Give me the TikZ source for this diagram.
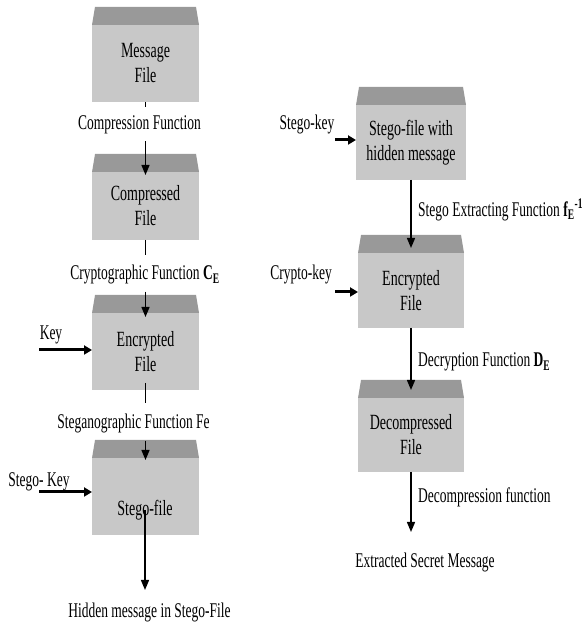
\documentclass[tikz,border=0pt]{standalone}
\usepackage{fontspec}
\setmainfont{Liberation Serif}
\usepackage{graphicx}
\usetikzlibrary{arrows.meta}

\definecolor{bodygray}{RGB}{200,200,200}
\definecolor{lidgray}{RGB}{153,153,153}
\newcommand{\tx}[1]{\scalebox{1}[1.55]{#1}}

\tikzset{
  filebox/.style={rectangle,fill=bodygray,inner sep=0pt,outer sep=0pt,align=center,
    font=\fontsize{14}{25}\selectfont},
  lbl/.style={inner sep=2pt,font=\fontsize{13.5}{16}\selectfont},
  flow/.style={line width=1.4pt,-{Triangle[length=10pt,width=8pt]}},
  keyflow/.style={line width=3pt,-{Triangle[length=8pt,width=9pt]}},
  tick/.style={line width=1.4pt}
}

\begin{document}
\begin{tikzpicture}[x=1pt,y=1pt]
            \useasboundingbox (0,0) rectangle (582,623);

            % hiding side
            \node[filebox,minimum width=107pt,minimum height=77pt] (msg) at (145.5,559.5) {\tx{Message}\\\tx{File}};
            \node[filebox,minimum width=107pt,minimum height=68pt] (cmp) at (145.5,417) {\tx{Compressed}\\\tx{File}};
            \node[filebox,minimum width=107pt,minimum height=77pt] (enc) at (145.5,271.5) {\tx{Encrypted}\\\tx{File}};
            \node[filebox,minimum width=107pt,minimum height=77pt] (stg) at (145.5,126.5) {};

            % extracting side
            \node[filebox,minimum width=110pt,minimum height=75pt] (sfh) at (411,480.5) {\tx{Stego-file with}\\\tx{hidden message}};
            \node[filebox,minimum width=106pt,minimum height=75pt] (enc2) at (411,332.5) {\tx{Encrypted}\\\tx{File}};
            \node[filebox,minimum width=106pt,minimum height=74pt] (dec) at (411,188) {\tx{Decompressed}\\\tx{File}};

            \foreach \b in {msg,cmp,enc,stg,sfh,enc2,dec}
              \fill[lidgray] (\b.north west) -- ([shift={(3,18)}]\b.north west)
                -- ([shift={(-3,18)}]\b.north east) -- (\b.north east) -- cycle;

            \node[lbl,font=\fontsize{14}{16}\selectfont] (stgtxt) at (145,113) {\tx{Stego-file}};

            \node[lbl] (complbl) at (139.5,498) {\tx{Compression Function}};
            \node[lbl] (cryplbl) at (145,348) {\tx{Cryptographic Function \textbf{C\textsubscript{E}}}};
            \node[lbl] (steglbl) at (133.5,199) {\tx{Steganographic Function Fe}};
            \node[lbl] (hidlbl) at (149.5,11) {\tx{Hidden message in Stego-File}};
            \node[lbl] (keylbl) at (51,288) {\tx{Key}};
            \node[lbl] (skeylbl) at (39,141) {\tx{Stego- Key}};

            \node[lbl] (rskeylbl) at (307,498) {\tx{Stego-key}};
            \node[lbl] (ckeylbl) at (301,348) {\tx{Crypto-key}};
            \node[lbl,anchor=west] (extrlbl) at (416,413) {\tx{Stego Extracting Function \textbf{f\textsubscript{E}\textsuperscript{-1}}}};
            \node[lbl,anchor=west] (decrlbl) at (416,261) {\tx{Decryption Function \textbf{D\textsubscript{E}}}};
            \node[lbl,anchor=west] (dcmplbl) at (416,126) {\tx{Decompression function}};
            \node[lbl] (outlbl) at (425,60) {\tx{Extracted Secret Message}};

            \coordinate (keyin) at (39,273);
            \coordinate (skeyin) at (39,131);
            \coordinate (rskeyin) at (335,483);
            \coordinate (ckeyin) at (335,331);
            \coordinate (hidout) at (145,33);
            \coordinate (outr) at (411,91);

            % connectors
            \draw[tick] (msg.south) -- ++(0,-5);
            \draw[flow,shorten <=5pt] (cmp.north |- complbl.south) -- ([yshift=-3pt]cmp.north);
            \draw[tick] (cmp.south) -- ++(0,-15);
            \draw[flow,shorten <=5pt] (enc.north |- cryplbl.south) -- ([yshift=-4pt]enc.north);
            \draw[tick] ([yshift=7pt]enc.south) -- ++(0,-20);
            \draw[flow,shorten <=5pt] (stg.north |- steglbl.south) -- ([yshift=-2pt]stg.north);
            \draw[flow] (stgtxt.center) -- (hidout);
            \draw[keyflow] (keyin) -- (keyin -| enc.west);
            \draw[keyflow] (skeyin) -- (skeyin -| stg.west);

            \draw[keyflow] (rskeyin) -- (rskeyin -| sfh.west);
            \draw[keyflow] (ckeyin) -- (ckeyin -| enc2.west);
            \draw[flow] (sfh.south) -- ([yshift=5pt]enc2.north);
            \draw[flow] (enc2.south) -- ([yshift=8pt]dec.north);
            \draw[flow] (dec.south) -- (outr);
\end{tikzpicture}
\end{document}
